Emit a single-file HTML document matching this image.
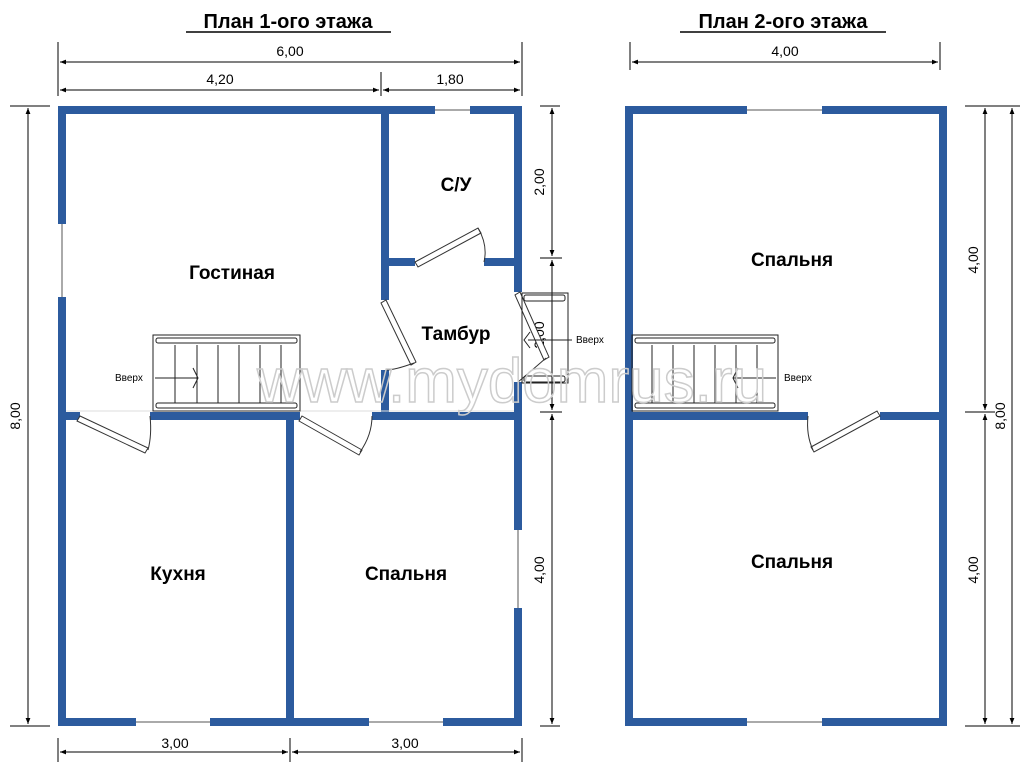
<!DOCTYPE html>
<html><head><meta charset="utf-8"><style>
body{margin:0;background:#fff}
svg{display:block}
text{font-family:"Liberation Sans",sans-serif}
</style></head><body>
<svg width="1024" height="766" viewBox="0 0 1024 766" xmlns="http://www.w3.org/2000/svg">
<defs>
<marker id="a" viewBox="0 0 10 10" refX="10" refY="5" markerWidth="8" markerHeight="6" orient="auto-start-reverse"><path d="M0,1L10,5L0,9z" fill="#000"/></marker>
</defs>
<!-- titles -->
<text x="288" y="28" font-size="20" font-weight="bold" text-anchor="middle">План 1-ого этажа</text>
<line x1="186" y1="32" x2="391" y2="32" stroke="#000" stroke-width="1.5"/>
<text x="783" y="28" font-size="20" font-weight="bold" text-anchor="middle">План 2-ого этажа</text>
<line x1="680" y1="32" x2="886" y2="32" stroke="#000" stroke-width="1.5"/>

<g stroke="#000" stroke-width="1" fill="none">
<!-- plan1 top dims -->
<line x1="58" y1="42" x2="58" y2="96"/><line x1="522" y1="42" x2="522" y2="96"/><line x1="381" y1="72" x2="381" y2="96"/>
<line x1="60" y1="62" x2="520" y2="62" marker-start="url(#a)" marker-end="url(#a)"/>
<line x1="60" y1="90" x2="379" y2="90" marker-start="url(#a)" marker-end="url(#a)"/>
<line x1="383" y1="90" x2="520" y2="90" marker-start="url(#a)" marker-end="url(#a)"/>
<!-- left -->
<line x1="10" y1="106" x2="50" y2="106"/><line x1="10" y1="726" x2="50" y2="726"/>
<line x1="28" y1="108" x2="28" y2="724" marker-start="url(#a)" marker-end="url(#a)"/>
<!-- right plan1 -->
<line x1="540" y1="106" x2="560" y2="106"/><line x1="540" y1="258" x2="562" y2="258"/><line x1="540" y1="412" x2="562" y2="412"/><line x1="540" y1="726" x2="560" y2="726"/>
<line x1="552" y1="108" x2="552" y2="256" marker-start="url(#a)" marker-end="url(#a)"/>
<line x1="552" y1="260" x2="552" y2="410" marker-start="url(#a)" marker-end="url(#a)"/>
<line x1="552" y1="414" x2="552" y2="724" marker-start="url(#a)" marker-end="url(#a)"/>
<!-- bottom -->
<line x1="58" y1="738" x2="58" y2="762"/><line x1="290" y1="738" x2="290" y2="762"/><line x1="522" y1="738" x2="522" y2="762"/>
<line x1="60" y1="752" x2="288" y2="752" marker-start="url(#a)" marker-end="url(#a)"/>
<line x1="292" y1="752" x2="520" y2="752" marker-start="url(#a)" marker-end="url(#a)"/>
<!-- plan2 dims -->
<line x1="630" y1="42" x2="630" y2="70"/><line x1="940" y1="42" x2="940" y2="70"/>
<line x1="632" y1="62" x2="938" y2="62" marker-start="url(#a)" marker-end="url(#a)"/>
<line x1="965" y1="106" x2="1020" y2="106"/><line x1="965" y1="412" x2="995" y2="412"/><line x1="965" y1="726" x2="1020" y2="726"/>
<line x1="985" y1="108" x2="985" y2="410" marker-start="url(#a)" marker-end="url(#a)"/>
<line x1="985" y1="414" x2="985" y2="724" marker-start="url(#a)" marker-end="url(#a)"/>
<line x1="1012" y1="108" x2="1012" y2="724" marker-start="url(#a)" marker-end="url(#a)"/>
</g>
<g font-size="14" text-anchor="middle">
<text x="290" y="56">6,00</text><text x="220" y="84">4,20</text><text x="450" y="84">1,80</text>
<text x="175" y="748">3,00</text><text x="405" y="748">3,00</text><text x="785" y="56">4,00</text>
<text transform="translate(20,416) rotate(-90)">8,00</text>
<text transform="translate(544,182) rotate(-90)">2,00</text>
<text transform="translate(544,335) rotate(-90)">2,00</text>
<text transform="translate(544,570) rotate(-90)">4,00</text>
<text transform="translate(978,260) rotate(-90)">4,00</text>
<text transform="translate(978,570) rotate(-90)">4,00</text>
<text transform="translate(1005,416) rotate(-90)">8,00</text>
</g>

<!-- windows (thin lines) -->
<g stroke="#555" stroke-width="1">
<line x1="62" y1="224" x2="62" y2="297"/><line x1="435" y1="110" x2="470" y2="110"/>
<line x1="136" y1="722" x2="210" y2="722"/><line x1="369" y1="722" x2="443" y2="722"/>
<line x1="518" y1="530" x2="518" y2="608"/>
<line x1="747" y1="110" x2="822" y2="110"/><line x1="747" y1="722" x2="822" y2="722"/>
</g>

<!-- walls -->
<g fill="#2c5b9e">
<!-- plan1 outer -->
<rect x="58" y="106" width="377" height="8"/><rect x="470" y="106" width="52" height="8"/>
<rect x="58" y="106" width="8" height="118"/><rect x="58" y="297" width="8" height="429"/>
<rect x="58" y="718" width="78" height="8"/><rect x="210" y="718" width="159" height="8"/><rect x="443" y="718" width="79" height="8"/>
<rect x="514" y="106" width="8" height="186"/><rect x="514" y="382" width="8" height="148"/><rect x="514" y="608" width="8" height="118"/>
<!-- interior -->
<rect x="381" y="106" width="8" height="194"/><rect x="381" y="370" width="8" height="50"/>
<rect x="381" y="258" width="34" height="8"/><rect x="484" y="258" width="34" height="8"/>
<rect x="58" y="412" width="22" height="8"/><rect x="150" y="412" width="150" height="8"/><rect x="372" y="412" width="146" height="8"/>
<rect x="286" y="412" width="8" height="314"/>
<!-- plan2 -->
<rect x="625" y="106" width="122" height="8"/><rect x="822" y="106" width="125" height="8"/>
<rect x="625" y="718" width="122" height="8"/><rect x="822" y="718" width="125" height="8"/>
<rect x="625" y="106" width="8" height="620"/><rect x="939" y="106" width="8" height="620"/>
<rect x="625" y="412" width="183" height="8"/><rect x="880" y="412" width="67" height="8"/>
</g>

<!-- doors -->
<g stroke="#333" stroke-width="1" fill="#fff">
<polygon points="415,262 478,228 481,233 418,267"/>
<polygon points="386,300 416,362 411,365 381,303"/>
<polygon points="520,292 549,357 544,360 515,295"/>
<polygon points="80,416 148,448 145,453 77,421"/>
<polygon points="302,416 362,450 359,455 299,421"/>
<polygon points="880,416 814,452 811,447 877,411"/>
</g>
<g stroke="#333" stroke-width="1" fill="none">
<path d="M478,228 Q488,245 484,262"/><path d="M414,363 Q395,370 386,370"/><path d="M546,358 Q530,372 518,382"/>
<path d="M148,450 Q152,435 150,416"/><path d="M360,452 Q372,435 372,416"/><path d="M813,450 Q806,435 808,416"/>
<line x1="66" y1="411" x2="514" y2="411" stroke="#ddd"/>
</g>

<!-- stairs plan1 -->
<g stroke="#222" stroke-width="1" fill="none">
<rect x="153" y="335" width="147" height="76"/>
<rect x="156" y="338" width="141" height="5" rx="2"/><rect x="156" y="403" width="141" height="5" rx="2"/>
<line x1="175" y1="345" x2="175" y2="403"/><line x1="197" y1="345" x2="197" y2="403"/><line x1="218" y1="345" x2="218" y2="403"/><line x1="239" y1="345" x2="239" y2="403"/><line x1="260" y1="345" x2="260" y2="403"/><line x1="281" y1="345" x2="281" y2="403"/>
<line x1="155" y1="378" x2="197" y2="378"/><path d="M193,368 L198,378 L193,388"/>
<!-- porch stairs -->
<rect x="522" y="293" width="46" height="90"/>
<rect x="524" y="295" width="41" height="6" rx="2"/><rect x="524" y="376" width="41" height="6" rx="2"/>
<line x1="528" y1="340" x2="572" y2="340"/><path d="M530,332 L524,340 L530,348"/>
<!-- stairs plan2 -->
<rect x="632" y="335" width="146" height="76"/>
<rect x="635" y="338" width="140" height="5" rx="2"/><rect x="635" y="403" width="140" height="5" rx="2"/>
<line x1="652" y1="345" x2="652" y2="403"/><line x1="673" y1="345" x2="673" y2="403"/><line x1="694" y1="345" x2="694" y2="403"/><line x1="715" y1="345" x2="715" y2="403"/><line x1="736" y1="345" x2="736" y2="403"/><line x1="757" y1="345" x2="757" y2="403"/>
<line x1="733" y1="378" x2="776" y2="378"/><path d="M738,368 L733,378 L738,388"/>
</g>
<g font-size="10">
<text x="115" y="381">Вверх</text><text x="576" y="343">Вверх</text><text x="784" y="381">Вверх</text>
</g>

<!-- watermark -->
<text x="512" y="402" font-size="62" text-anchor="middle" fill="none" stroke="#ccc" stroke-width="1.5">www.mydomrus.ru</text>

<!-- room labels -->
<g font-size="19" font-weight="bold" text-anchor="middle">
<text x="232" y="279">Гостиная</text><text x="456" y="191">С/У</text><text x="456" y="340">Тамбур</text>
<text x="178" y="580">Кухня</text><text x="406" y="580">Спальня</text>
<text x="792" y="266">Спальня</text><text x="792" y="568">Спальня</text>
</g>
</svg>
</body></html>
